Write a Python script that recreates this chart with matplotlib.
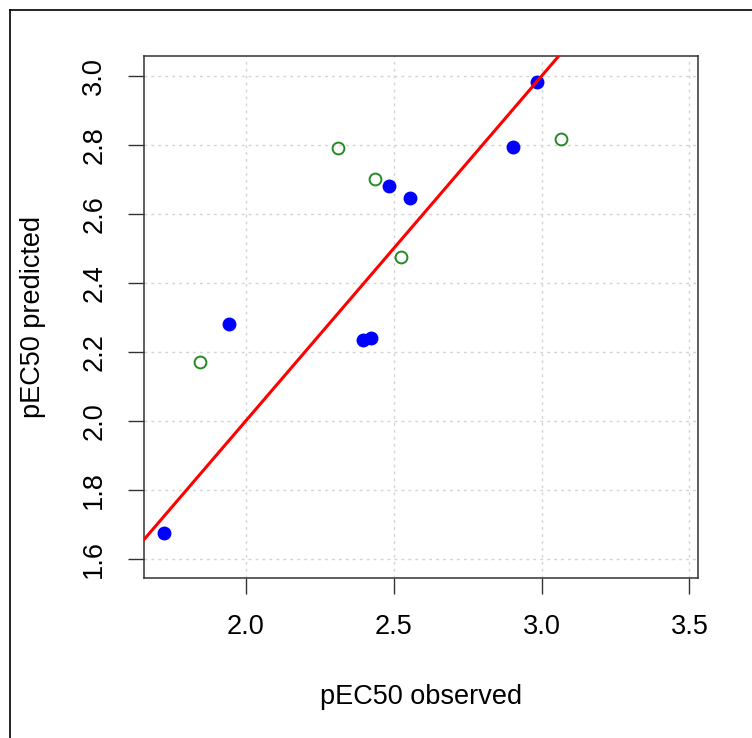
import matplotlib.pyplot as plt
from matplotlib.lines import Line2D

plt.rcParams['font.family'] = ['Liberation Sans', 'DejaVu Sans']

# filled blue points (observed, predicted)
blue_obs = [1.723, 1.944, 2.396, 2.422, 2.484, 2.555, 2.903, 2.983]
blue_pred = [1.673, 2.280, 2.234, 2.240, 2.681, 2.645, 2.795, 2.983]

# open green points
green_obs = [1.845, 2.312, 2.437, 2.525, 3.066]
green_pred = [2.170, 2.790, 2.701, 2.476, 2.817]

xticks = [2.0, 2.5, 3.0, 3.5]
yticks = [1.6, 1.8, 2.0, 2.2, 2.4, 2.6, 2.8, 3.0]

W, H = 752, 738
fig = plt.figure(figsize=(W / 100, H / 100), dpi=100)
ax = fig.add_axes([144 / W, 1 - 577.5 / H, (698 - 144) / W, (577.5 - 56) / H])

ax.set_xlim(1.655, 3.529)
ax.set_ylim(1.545, 3.058)
ax.set_xticks(xticks)
ax.set_yticks(yticks)
ax.set_xticklabels([f'{v:.1f}' for v in xticks])
ax.set_yticklabels([f'{v:.1f}' for v in yticks], rotation=90, va='center')

ax.grid(True, color='#D3D3D3', linestyle=(0, (2, 3)), linewidth=1)
ax.set_axisbelow(True)

ax.plot(blue_obs, blue_pred, 'o', color='blue', markersize=9, zorder=3)
ax.plot(green_obs, green_pred, 'o', mfc='none', mec='#228B22', mew=1.4,
        markersize=8.5, zorder=3)
ax.axline((2.0, 2.0), slope=1, color='red', linewidth=2.2, zorder=4)

for s in ax.spines.values():
    s.set_linewidth(1.1)
    s.set_color('#333333')
ax.tick_params(direction='out', length=11.5, width=1, color='#333333',
               labelsize=19.5, pad=15)

ax.set_xlabel('pEC50 observed', fontsize=19.5)
ax.set_ylabel('pEC50 predicted', fontsize=19.5)
ax.xaxis.set_label_coords(0.5, (577.5 - 697) / (577.5 - 56))
ax.xaxis.label.set_va('center')
ax.yaxis.set_label_coords((33 - 144) / (698 - 144), 0.5)
ax.yaxis.label.set_va('center')

# outer frame (left and top edges visible)
fig.add_artist(Line2D([10 / W, 10 / W], [0, 1 - 10 / H], color='black',
                      linewidth=1.2, transform=fig.transFigure))
fig.add_artist(Line2D([10 / W, 1], [1 - 10 / H, 1 - 10 / H], color='black',
                      linewidth=1.2, transform=fig.transFigure))

fig.savefig('out.png', dpi=100)
